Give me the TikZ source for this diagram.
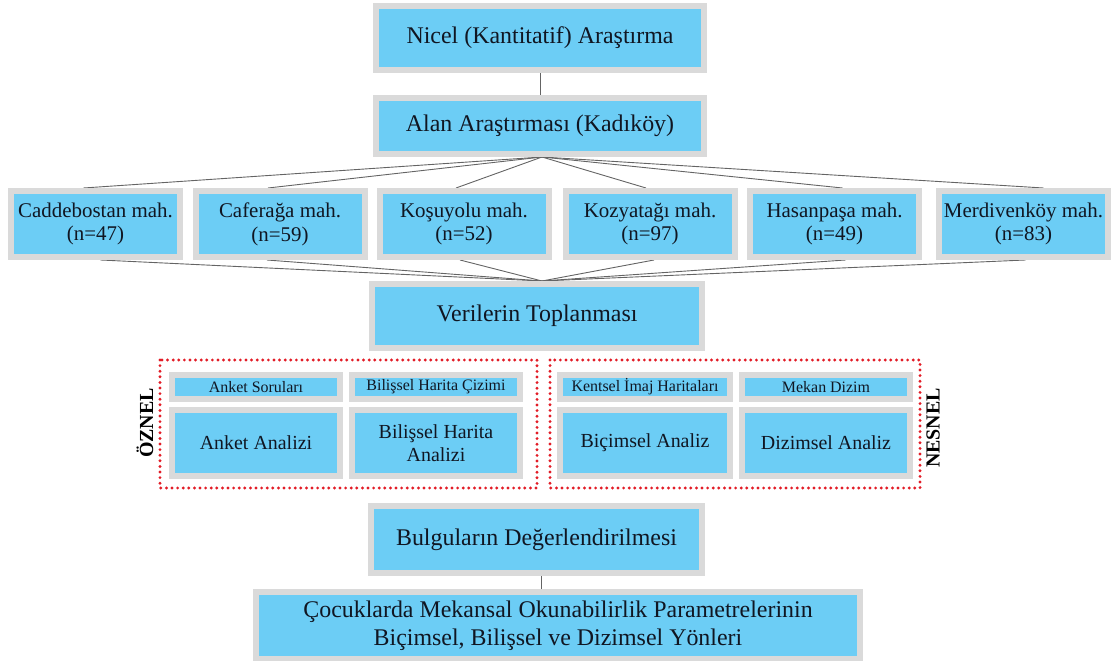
\documentclass[tikz,border=0pt]{standalone}
\usepackage{fontspec}
\setmainfont{Liberation Serif}
\usetikzlibrary{backgrounds}

\definecolor{boxblue}{RGB}{108,205,245}
\definecolor{boxrim}{RGB}{218,218,218}
\definecolor{ink}{RGB}{16,22,34}
\definecolor{dotred}{RGB}{226,28,38}
\definecolor{linkgrey}{RGB}{100,100,100}

\begin{document}
\begin{tikzpicture}[x=1bp,y=-1bp,
  box/.style={fill=boxblue, draw=boxrim, line width=6bp, inner sep=0pt,
              text=ink, align=center},
  size/.style 2 args={minimum width=#1bp-6bp, minimum height=#2bp-6bp},
  big/.style={font=\fontsize{24}{28}\selectfont},
  hood/.style={font=\fontsize{21}{24}\selectfont},
  tool/.style={font=\fontsize{16}{18}\selectfont},
  analysis/.style={font=\fontsize{20}{23}\selectfont},
  side/.style={rotate=90, text=black, inner sep=0pt,
               font=\bfseries\fontsize{20}{20}\selectfont},
  link/.style={draw=linkgrey, line width=0.9bp},
  dotframe/.style={draw=dotred, line width=3.2bp, line cap=round,
                   dash pattern=on 0bp off 5.6bp}]

\useasboundingbox (0,0) rectangle (1115,661);

% research chain
\node[box, big, size={334}{70}] (nicel) at (540,38) {Nicel (Kantitatif) Araştırma};
\node[box, big, size={334}{62}] (alan) at (540,126) {Alan Araştırması (Kadıköy)};

% neighbourhood samples
\node[box, hood, size={175}{72}] (cad) at (95.5,224) {Caddebostan mah.\\(n=47)};
\node[box, hood, size={175}{72}] (caf) at (280,224) {Caferağa mah.\\(n=59)};
\node[box, hood, size={175}{72}] (kos) at (464,224) {Koşuyolu mah.\\(n=52)};
\node[box, hood, size={175}{72}] (koz) at (650,224) {Kozyatağı mah.\\(n=97)};
\node[box, hood, size={175}{72}] (has) at (834.5,224) {Hasanpaşa mah.\\(n=49)};
\node[box, hood, size={175}{72}] (mer) at (1023.5,224) {Merdivenköy mah.\\(n=83)};

\node[box, big, size={336}{70}] (veri) at (537,316) {Verilerin Toplanması};

% subjective group
\draw[dotframe] (160,360) rectangle (537,488);
\node[box, tool, size={174}{30}] (anket) at (256,387) {Anket Soruları};
\node[box, tool, size={174}{30}] (cizim) at (436,387) {Bilişsel Harita Çizimi};
\node[box, analysis, size={174}{72}] (anketA) at (256,443) {Anket Analizi};
\node[box, analysis, size={174}{72}] (bilisA) at (436,443) {Bilişsel Harita\\Analizi};
\node[side] (oznel) at (145,423) {ÖZNEL};

% objective group
\draw[dotframe] (550,360) rectangle (920,488);
\node[box, tool, size={176}{30}] (imaj) at (645,387) {Kentsel İmaj Haritaları};
\node[box, tool, size={174}{30}] (dizim) at (826,387) {Mekan Dizim};
\node[box, analysis, size={176}{72}] (bicimA) at (645,443) {Biçimsel Analiz};
\node[box, analysis, size={174}{72}] (dizimA) at (826,443) {Dizimsel Analiz};
\node[side] (nesnel) at (933,428) {NESNEL};

% evaluation and outcome
\node[box, big, size={337}{73}] (bulgu) at (536.5,539.5) {Bulguların Değerlendirilmesi};
\node[box, big, size={610}{73}] (sonuc) at (558,625.5)
  {Çocuklarda Mekansal Okunabilirlik Parametrelerinin\\Biçimsel, Bilişsel ve Dizimsel Yönleri};

% connectors: fan out from the field study, fan in to data collection
\begin{scope}[on background layer]
  \draw[link] (nicel) -- (alan);
  \foreach \n/\up/\dn in {cad/-12/5, caf/-12/-13, kos/-8/-4, koz/-4/4, has/8/11, mer/20/2}{
    \draw[link] ([xshift=2bp]alan.south) -- ([xshift=\up bp]\n.north);
    \draw[link] ([xshift=\dn bp]\n.south) -- ([xshift=5bp]veri.north);
  }
  \draw[link] ([xshift=4.5bp]bulgu.south) -- ([xshift=4.5bp]bulgu.south |- sonuc.north);
\end{scope}
\end{tikzpicture}
\end{document}
